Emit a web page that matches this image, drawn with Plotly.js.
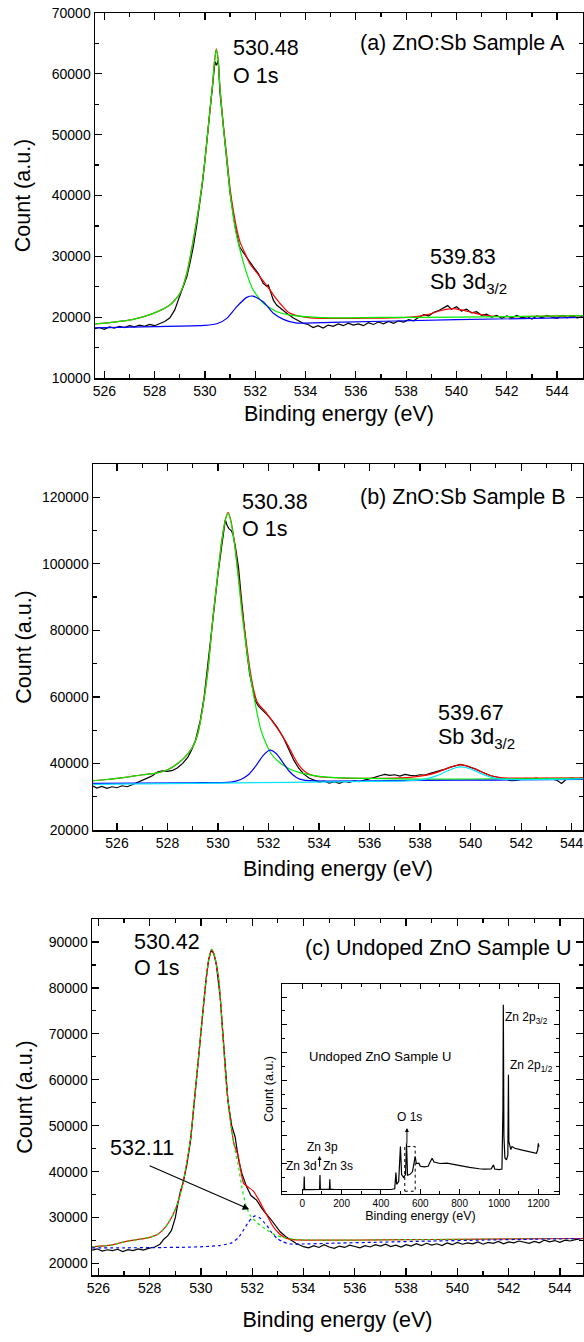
<!DOCTYPE html>
<html>
<head>
<meta charset="utf-8">
<script src="https://cdn.plot.ly/plotly-3.0.1.min.js"></script>
<style>
  html, body { margin: 0; padding: 0; background: #fff; }
  #chart { width: 584px; height: 1342px; }
</style>
</head>
<body>
<div id="chart"></div>
<script>
// ---------------- Panel (a): ZnO:Sb Sample A ----------------
const aDataE = [525.6,525.8,526.0,526.2,526.4,526.6,526.8,527.0,527.2,527.4,527.6,527.8,528.0,528.2,528.4,528.6,528.8,528.94,529.1,529.28,529.4,529.54,529.67,529.8,529.9,530.0,530.13,530.27,530.36,530.4,530.46,530.53,530.6,530.73,530.87,531.0,531.2,531.37,531.5,531.66,531.8,531.92,532.12,532.32,532.45,532.52,532.6,532.72,532.85,533.0,533.25,533.5,533.7,533.9,534.1,534.3,534.5,534.7,534.9,535.1,535.3,535.5,535.7,535.9,536.1,536.3,536.5,536.7,536.9,537.1,537.3,537.5,537.7,537.9,538.1,538.3,538.5,538.7,538.9,539.1,539.3,539.5,539.65,539.8,540.0,540.2,540.4,540.6,540.8,541.0,541.2,541.4,541.6,541.8,542.0,542.2,542.4,542.6,542.8,543.0,543.2,543.4,543.6,543.8,544.0,544.2,544.4,544.6,544.8,545.0];
const aDataCount = [18100,18300,18000,18400,18200,18500,18300,18600,18400,18700,18500,18800,18600,19000,19300,19850,21200,22800,24700,26650,28800,31600,35000,38700,42000,45800,51300,56800,60600,62000,61400,62200,56800,51300,45800,40400,34900,31600,30800,29940,29000,28300,27200,25550,25100,25300,24300,22800,22000,21450,20630,19900,19400,19000,18800,18300,18600,18200,18700,18500,18900,18600,19000,18700,18900,18600,19100,18800,19200,18900,19300,19000,19400,19200,19600,19400,20000,20400,20200,20800,21100,21600,21900,21300,21700,21000,21300,20700,20900,20300,20500,20000,20300,19800,20200,19900,20300,19900,20100,19700,20200,19900,20300,20000,19800,20300,19900,20200,19900,20100];

const aEnvE = [525.63,526.4,527.15,527.95,528.61,529.01,529.28,529.54,529.8,530.0,530.2,530.3,530.38,530.45,530.52,530.6,530.73,530.87,531.0,531.13,531.25,531.4,531.66,531.8,532.0,532.2,532.4,532.6,532.8,533.0,533.32,533.7,534.2,535.0,536.0,537.0,538.0,538.6,539.0,539.4,539.83,540.2,540.6,541.0,541.5,542.5,545.03];
const aEnvCount = [18900,19200,19640,20630,22000,23920,27200,32700,39260,45800,54050,58000,62000,64100,62600,57700,51700,46400,41200,37500,34800,32300,29900,28700,27600,26600,25500,24400,23200,22200,20800,20200,19900,19800,19800,19850,19950,20200,20600,21100,21400,21200,20800,20400,20150,20100,20250];

const aMainE = [525.63,526.4,527.15,527.95,528.61,529.01,529.28,529.54,529.8,530.0,530.2,530.3,530.38,530.45,530.52,530.6,530.73,530.87,531.0,531.13,531.25,531.4,531.66,531.92,532.32,532.86,533.4,534.0,535.0,537.0,540.0,545.03];
const aMainCount = [18900,19200,19640,20630,22000,23920,27200,32700,39260,45800,54050,58000,62000,64000,62500,57500,51300,45800,40400,36500,33600,31000,27200,24470,22300,20900,20350,20100,19900,19950,20000,20250];

const aSecE = [525.63,528.0,530.0,530.5,530.87,531.26,531.66,531.91,532.32,532.72,533.12,533.6,535.0,540.0,545.03];
const aSecCount = [18250,18450,18650,18950,19800,21700,23250,23470,22530,20630,19640,19050,19150,19580,19950];

// ---------------- Panel (b): ZnO:Sb Sample B ----------------
const bDataE = [525.05,525.2,525.4,525.6,525.8,526.0,526.2,526.4,526.6,526.8,527.0,527.2,527.4,527.6,527.8,528.0,528.2,528.4,528.6,528.8,528.95,529.11,529.3,529.45,529.6,529.74,529.87,530.0,530.14,530.29,530.36,530.44,530.52,530.59,530.7,530.81,530.92,531.03,531.14,531.25,531.36,531.47,531.6,531.77,531.95,532.13,532.35,532.57,532.8,533.0,533.2,533.4,533.6,533.8,534.0,534.2,534.4,534.6,534.8,535.0,535.2,535.4,535.6,535.8,536.0,536.2,536.4,536.6,536.8,537.0,537.2,537.4,537.6,537.8,538.0,538.2,538.4,538.6,538.8,539.0,539.2,539.4,539.6,539.8,540.0,540.2,540.4,540.6,540.8,541.0,541.2,541.4,541.6,541.8,542.0,542.2,542.4,542.6,542.8,543.0,543.2,543.4,543.6,543.8,544.0,544.2,544.45];
const bDataCount = [33200,32600,33100,32500,33000,32700,33300,33000,33600,34200,34800,35600,36300,37400,37800,37600,37900,38700,40000,41800,44000,47000,53000,60000,70000,80000,89000,97000,105000,113200,111500,110500,110000,109000,104500,99000,90000,81000,73500,67000,62500,59000,57200,56000,54600,53000,50800,48000,44500,41000,38500,36800,35600,34900,34400,34700,34100,34500,34000,34600,34300,34800,34500,35000,35300,35800,36300,36700,36400,36600,36200,36700,36400,36300,36600,36500,37000,37400,37900,38300,38900,39400,39700,39300,38900,38300,37600,37000,36300,36000,35600,35200,34800,34900,35100,35500,35300,35600,35200,35500,35400,35000,34000,35300,35600,35400,35700];

const bEnvE = [525.05,525.5,526.0,526.5,527.0,527.5,528.0,528.4,528.7,529.0,529.2,529.4,529.6,529.8,530.0,530.15,530.3,530.4,530.5,530.65,530.8,530.95,531.1,531.25,531.4,531.55,531.7,531.85,532.0,532.15,532.35,532.57,532.8,533.0,533.2,533.4,533.6,534.0,535.0,536.0,537.0,537.6,538.2,538.7,539.1,539.4,539.6,539.85,540.2,540.5,540.8,541.1,541.5,542.5,544.45];
const bEnvCount = [34800,35100,35500,36000,36600,37000,38100,40000,42000,45000,49000,57000,68000,84000,97500,107000,113500,115500,113300,106500,97000,86500,77500,69000,62500,58500,57000,55800,54300,52700,50500,48000,45000,42000,39500,37800,36800,36000,35600,35500,35600,35800,36400,37400,38600,39300,39550,39300,38300,37200,36300,35800,35600,35600,35700];

const bMainE = [525.05,525.5,526.0,526.5,527.0,527.5,528.0,528.4,528.7,529.0,529.2,529.4,529.6,529.8,530.0,530.15,530.3,530.4,530.5,530.65,530.8,530.95,531.1,531.25,531.4,531.55,531.7,531.9,532.1,532.4,532.8,533.2,533.7,534.5,536.0,538.0,540.0,542.0,544.45];
const bMainCount = [34800,35100,35500,36000,36600,37000,38100,40000,42000,45000,49000,57000,68000,84000,97500,107000,113500,115200,113000,106000,96000,85000,76000,67500,61000,55000,50000,46000,43000,40500,38500,37300,36500,35800,35500,35300,35300,35400,35500];

const bSecE = [525.05,529.0,530.5,530.9,531.2,531.5,531.8,532.05,532.3,532.55,532.8,533.1,533.4,534.5,538.0,541.0,544.45];
const bSecCount = [34000,34200,34400,35200,36600,39300,42500,44000,43000,40500,37800,35800,35000,34700,34900,35000,35200];

const bSbE = [525.05,530.0,536.0,537.5,538.2,538.7,539.1,539.4,539.6,539.85,540.2,540.5,540.8,541.2,542.0,544.45];
const bSbCount = [33700,34100,34600,34800,35300,36400,37800,38700,39000,38700,37700,36700,35900,35300,35150,35350];

// ---------------- Panel (c): Undoped ZnO Sample U ----------------
const cDataE = [525.75,525.95,526.15,526.35,526.55,526.75,526.95,527.15,527.35,527.55,527.75,527.95,528.2,528.4,528.55,528.7,528.85,529.0,529.1,529.2,529.3,529.45,529.6,529.75,529.9,530.05,530.2,530.3,530.4,530.5,530.6,530.75,530.9,531.05,531.2,531.33,531.47,531.6,531.78,531.95,532.17,532.4,532.7,532.9,533.09,533.3,533.48,533.7,534.0,534.2,534.4,534.6,534.8,535.0,535.2,535.4,535.6,535.8,536.0,536.2,536.4,536.6,536.8,537.0,537.2,537.4,537.6,537.8,538.0,538.2,538.4,538.6,538.8,539.0,539.2,539.4,539.6,539.8,540.0,540.2,540.4,540.6,540.8,541.0,541.2,541.4,541.6,541.8,542.0,542.2,542.4,542.6,542.8,543.0,543.2,543.4,543.6,543.8,544.0,544.2,544.4,544.6,544.9];
const cDataCount = [22900,23200,22700,23000,22800,23100,22600,23000,22800,23200,22900,23300,23600,24200,25300,26000,27200,30000,33100,35800,37500,41500,47000,56000,65000,74000,82000,86200,88200,87500,85000,78000,66000,55500,50000,47600,42500,39500,36700,34800,33800,31800,29800,28200,26900,25900,25300,24400,23660,23400,23900,23500,24100,23600,23300,23800,23500,24000,23700,23400,23900,23600,24100,23800,24200,23700,24000,23600,24100,23800,24300,23900,24400,24000,24300,23900,24500,24100,24600,24200,24500,24300,24700,24200,24600,24400,24800,24300,24700,24500,24900,24600,24400,24800,24500,25100,24700,25000,24600,25100,24900,25200,25460];

const cEnvE = [525.75,526.5,527.0,527.5,528.0,528.3,528.5,528.7,528.9,529.1,529.3,529.45,529.6,529.75,529.9,530.05,530.2,530.3,530.42,530.55,530.7,530.85,531.0,531.15,531.3,531.45,531.66,531.85,532.04,532.25,532.43,532.62,532.82,533.0,533.2,533.5,534.1,536.0,538.0,540.0,542.0,544.9];
const cEnvCount = [23650,24000,24700,25200,25700,26300,27200,28600,30500,33300,37600,42000,47500,56000,64500,73500,81700,86000,88400,86500,81500,70000,58500,51000,45800,43500,37500,36600,35800,33900,32000,30000,28000,26800,25850,25250,25100,25100,25200,25250,25350,25450];

const cMainE = [525.75,526.5,527.0,527.5,528.0,528.3,528.5,528.7,528.9,529.1,529.3,529.45,529.6,529.75,529.9,530.05,530.2,530.3,530.42,530.55,530.7,530.85,531.0,531.15,531.3,531.45,531.6,531.75,531.92,532.2,532.57,532.9,533.2,533.6,534.0,536.0,538.0,540.0,542.0,544.9];
const cMainCount = [23650,24000,24700,25200,25700,26300,27200,28600,30500,33300,37600,42000,47500,56000,64500,73500,81700,86000,88400,86500,81500,70000,58500,51000,45500,41500,36500,32700,30500,28800,27300,26200,25700,25300,25150,25100,25200,25250,25350,25450];

const cSecE = [525.75,527.0,528.5,529.5,530.2,530.7,531.0,531.2,531.45,531.66,531.85,532.0,532.11,532.3,532.45,532.57,532.75,532.96,533.2,533.48,534.0,535.0,537.0,539.0,541.0,543.0,544.9];
const cSecCount = [23400,23420,23480,23550,23700,23900,24200,24500,25600,27300,29000,30000,30350,29900,29000,28300,26800,25500,24700,24250,24250,24400,24650,24900,25100,25300,25450];

// ---------------- Inset: survey spectrum of Sample U ----------------
const surveyE = [0,8,10,12,30,60,85,88,90,92,100,130,138,140,142,160,200,250,300,350,400,450,470,476,480,490,499,505,515,525,530,535,546,560,574,580,593,600,620,640,650,660,670,700,735,800,850,900,924,960,972,978,1000,1015,1020,1022,1025,1030,1038,1045,1048,1050,1060,1066,1080,1113,1150,1190,1197,1200,1203];
const surveyCount = [4700,5500,52700,6000,5600,5400,6000,6500,58800,7000,6800,6500,7500,43300,7200,6800,6400,6200,5800,5500,5600,6200,9000,67000,25000,35000,161000,60000,50000,60000,173000,58000,60000,70000,125000,100000,101000,90000,88000,90000,105000,119000,105000,100000,101000,92000,86000,81000,79400,80000,95000,80000,78000,80000,300000,672600,200000,120000,113000,130000,420000,180000,150000,161000,155000,149000,142000,137000,150000,173000,160000];
const o1sWindowE = [521, 574];
const o1sWindowCount = [0, 161000];

// ---------------- Text ----------------
const xTitle = 'Binding energy (eV)';
const yTitle = 'Count (a.u.)';
const panelTitles = ['(a) ZnO:Sb Sample A', '(b) ZnO:Sb Sample B', '(c) Undoped ZnO Sample U'];
const peakPositions = ['530.48', '539.83', '530.38', '539.67', '530.42', '532.11'];
const peakNames = ['O 1s', 'Sb 3d<sub>3/2</sub>'];
const insetLabels = ['Undoped ZnO Sample U', 'Zn 2p<sub>3/2</sub>', 'Zn 2p<sub>1/2</sub>', 'O 1s', 'Zn 3p', 'Zn 3d', 'Zn 3s'];

// ---------------- Layout helpers ----------------
const W = 584, H = 1342;
const FONT = '"Liberation Sans", Arial, sans-serif';
const dX = (l, r) => [l / W, r / W];
const dY = (t, b) => [1 - b / H, 1 - t / H];

function xAxis(domain, range, anchor, standoff) {
  return {
    domain, range, anchor, dtick: 2, tick0: 526,
    ticks: 'inside', ticklen: 7, tickwidth: 1.2, tickcolor: '#000',
    minor: { dtick: 1, ticks: 'inside', ticklen: 4, tickwidth: 1.2, tickcolor: '#000' },
    showline: true, linecolor: '#000', linewidth: 1.5, mirror: 'ticks',
    showgrid: false, zeroline: false, tickformat: 'd',
    tickfont: { family: FONT, size: 14, color: '#000' },
    title: { text: xTitle, font: { family: FONT, size: 21.5, color: '#000' }, standoff }
  };
}
function yAxis(domain, range, anchor, dtick, minor, standoff) {
  return {
    domain, range, anchor, dtick, tick0: 0,
    ticks: 'inside', ticklen: 7, tickwidth: 1.2, tickcolor: '#000',
    minor: { dtick: minor, ticks: 'inside', ticklen: 4, tickwidth: 1.2, tickcolor: '#000' },
    showline: true, linecolor: '#000', linewidth: 1.5, mirror: 'ticks',
    showgrid: false, zeroline: false, tickformat: 'd',
    tickfont: { family: FONT, size: 14, color: '#000' },
    title: { text: yTitle, font: { family: FONT, size: 21.5, color: '#000' }, standoff }
  };
}

function line(x, y, xa, ya, color, dash, shape) {
  return { x, y, xaxis: xa, yaxis: ya, type: 'scatter', mode: 'lines',
    line: { color, width: 1.2, dash: dash || 'solid', shape: shape || 'linear', smoothing: 0.6 },
    showlegend: false, hoverinfo: 'skip' };
}

const traces = [
  line(aDataE, aDataCount, 'x', 'y', '#000000'),
  line(aEnvE, aEnvCount, 'x', 'y', '#ff0000', 'solid', 'spline'),
  line(aMainE, aMainCount, 'x', 'y', '#00ee00', 'solid', 'spline'),
  line(aSecE, aSecCount, 'x', 'y', '#0000ff', 'solid', 'spline'),

  line(bDataE, bDataCount, 'x2', 'y2', '#000000'),
  line(bEnvE, bEnvCount, 'x2', 'y2', '#ff0000', 'solid', 'spline'),
  line(bMainE, bMainCount, 'x2', 'y2', '#00ee00', 'solid', 'spline'),
  line(bSecE, bSecCount, 'x2', 'y2', '#0000ff', 'solid', 'spline'),
  line(bSbE, bSbCount, 'x2', 'y2', '#00e5ff', 'solid', 'spline'),

  line(cDataE, cDataCount, 'x3', 'y3', '#000000'),
  line(cEnvE, cEnvCount, 'x3', 'y3', '#ff0000', 'solid', 'spline'),
  line(cMainE, cMainCount, 'x3', 'y3', '#00ee00', 'dot', 'spline'),
  line(cSecE, cSecCount, 'x3', 'y3', '#0000ff', 'dot', 'spline'),

  line(surveyE, surveyCount, 'x4', 'y4', '#000000')
];

const big = { family: FONT, size: 21.5, color: '#000' };
const small = { family: FONT, size: 12, color: '#000' };
function txt(x, y, xref, yref, text, font, xanchor, yanchor) {
  return { x, y, xref, yref, text, font, showarrow: false, xanchor: xanchor || 'left', yanchor: yanchor || 'middle', align: 'left' };
}

const annotations = [
  // panel a
  txt(531.04, 64250, 'x', 'y', peakPositions[0], big),
  txt(531.04, 59640, 'x', 'y', peakNames[0], big),
  txt(544.40, 65070, 'x', 'y', panelTitles[0], big, 'right'),
  txt(538.87, 29900, 'x', 'y', peakPositions[1], big),
  txt(538.87, 25600, 'x', 'y', peakNames[1], big),
  // panel b
  txt(530.87, 118670, 'x2', 'y2', peakPositions[2], big),
  txt(530.87, 110380, 'x2', 'y2', peakNames[0], big),
  txt(543.86, 120170, 'x2', 'y2', panelTitles[1], big, 'right'),
  txt(538.63, 55170, 'x2', 'y2', peakPositions[3], big),
  txt(538.63, 47400, 'x2', 'y2', peakNames[1], big),
  // panel c
  txt(527.31, 90060, 'x3', 'y3', peakPositions[4], big),
  txt(527.31, 84330, 'x3', 'y3', peakNames[0], big),
  txt(544.52, 88690, 'x3', 'y3', panelTitles[2], big, 'right'),
  txt(526.37, 45150, 'x3', 'y3', peakPositions[5], big),
  { x: 531.88, y: 31800, xref: 'x3', yref: 'y3', ax: 527.94, ay: 41450, axref: 'x3', ayref: 'y3',
    text: '', showarrow: true, arrowhead: 2, arrowsize: 1.2, arrowwidth: 1.1, arrowcolor: '#000' },
  // inset
  txt(395, 486000, 'x4', 'y4', insetLabels[0], { family: FONT, size: 13, color: '#000' }, 'center'),
  txt(1140, 626000, 'x4', 'y4', insetLabels[1], small, 'center'),
  txt(1163, 450000, 'x4', 'y4', insetLabels[2], small, 'center'),
  txt(546, 269000, 'x4', 'y4', insetLabels[3], small, 'center'),
  txt(104, 161000, 'x4', 'y4', insetLabels[4], small, 'center'),
  txt(-5, 91000, 'x4', 'y4', insetLabels[5], small, 'center'),
  txt(184, 91000, 'x4', 'y4', insetLabels[6], small, 'center'),
  { x: 532, y: 228000, xref: 'x4', yref: 'y4', ax: 532, ay: 167000, axref: 'x4', ayref: 'y4',
    text: '', showarrow: true, arrowhead: 2, arrowsize: 0.8, arrowwidth: 1, arrowcolor: '#000' },
  { x: 88, y: 127000, xref: 'x4', yref: 'y4', ax: 88, ay: 83000, axref: 'x4', ayref: 'y4',
    text: '', showarrow: true, arrowhead: 2, arrowsize: 0.8, arrowwidth: 1, arrowcolor: '#000' }
];

const shapes = [
  { type: 'rect', xref: 'x4', yref: 'y4', x0: o1sWindowE[0], x1: o1sWindowE[1], y0: o1sWindowCount[0], y1: o1sWindowCount[1],
    line: { color: '#000', width: 1, dash: 'dot' }, fillcolor: 'rgba(0,0,0,0)' }
];

const insetX = {
  domain: dX(282, 559), range: [-103, 1305], anchor: 'y4', dtick: 200, tick0: 0,
  ticks: 'inside', ticklen: 5, tickwidth: 1, tickcolor: '#000',
  minor: { dtick: 100, ticks: 'inside', ticklen: 3, tickwidth: 1, tickcolor: '#000' },
  showline: true, linecolor: '#000', linewidth: 1.2, mirror: 'ticks',
  showgrid: false, zeroline: false, tickformat: 'd',
  tickfont: { family: FONT, size: 10, color: '#000' },
  title: { text: xTitle, font: { family: FONT, size: 12.5, color: '#000' }, standoff: 2 }
};
const insetY = {
  domain: dY(984, 1194), range: [-10000, 747000], anchor: 'x4', dtick: 100000, tick0: 0,
  ticks: 'inside', ticklen: 5, tickwidth: 1, tickcolor: '#000',
  minor: { dtick: 50000, ticks: 'inside', ticklen: 3, tickwidth: 1, tickcolor: '#000' },
  showline: true, linecolor: '#000', linewidth: 1.2, mirror: 'ticks',
  showgrid: false, zeroline: false, showticklabels: false,
  title: { text: yTitle, font: { family: FONT, size: 12.5, color: '#000' }, standoff: 4 }
};

const layout = {
  width: W, height: H,
  margin: { l: 0, r: 0, t: 0, b: 0 },
  paper_bgcolor: '#fff', plot_bgcolor: 'rgba(0,0,0,0)',
  showlegend: false,
  font: { family: FONT, color: '#000' },
  xaxis: xAxis(dX(95, 583), [525.63, 545.03], 'y', 7),
  yaxis: yAxis(dY(13, 378), [10000, 70000], 'x', 10000, 5000, 15),
  xaxis2: xAxis(dX(93, 583), [525.05, 544.45], 'y2', 10),
  yaxis2: yAxis(dY(464, 830), [20000, 130000], 'x2', 20000, 10000, 4),
  xaxis3: xAxis(dX(92, 583), [525.75, 544.9], 'y3', 16),
  yaxis3: yAxis(dY(919, 1275), [17500, 95000], 'x3', 10000, 5000, 10),
  xaxis4: insetX,
  yaxis4: insetY,
  annotations, shapes
};

Plotly.newPlot('chart', traces, layout, { staticPlot: true, displayModeBar: false });
</script>
</body>
</html>
